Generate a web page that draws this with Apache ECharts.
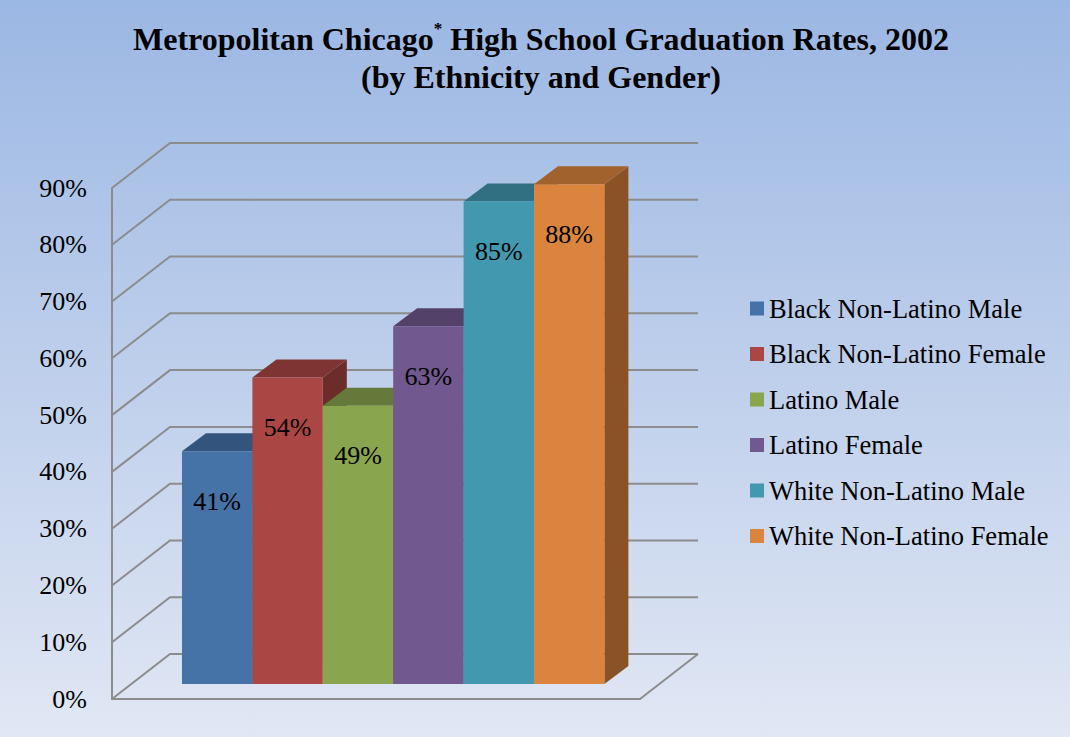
<!DOCTYPE html>
<html>
<head>
<meta charset="utf-8">
<script src="https://cdn.jsdelivr.net/npm/echarts@6/dist/echarts.min.js"></script>
<style>
  html, body { margin: 0; padding: 0; }
  #chart { width: 1070px; height: 737px; }
</style>
</head>
<body>
<div id="chart"></div>
<script>
// data
var categories = ['Black Non-Latino Male', 'Black Non-Latino Female', 'Latino Male',
    'Latino Female', 'White Non-Latino Male', 'White Non-Latino Female'];
var rates = [41, 54, 49, 63, 85, 88];
var yTicks = [0, 10, 20, 30, 40, 50, 60, 70, 80, 90];
var colors = ['#4572A7', '#AA4643', '#89A54E', '#71588F', '#4198AF', '#DB843D'];

// 3d look: full depth of the walls and where the bars sit in it
var WALL_DX = 58, WALL_DY = -45;
var BAR_FX = 19.3, BAR_FY = -15;   // bar front face offset from front plane
var BAR_DX = 24, BAR_DY = -18;     // bar depth
var X_MIN = -0.72, X_MAX = 6.78;
var FONT = 'Liberation Serif';

function shade(hex, k) {
    var n = parseInt(hex.slice(1), 16);
    var r = Math.round(((n >> 16) & 255) * k);
    var g = Math.round(((n >> 8) & 255) * k);
    var b = Math.round((n & 255) * k);
    return 'rgb(' + r + ',' + g + ',' + b + ')';
}

function wallItem(params, api) {
    var v = api.value(1);
    var a = api.coord([X_MIN, v]);
    var b = api.coord([X_MAX, v]);
    var lineStyle = {stroke: '#8C8C8C', lineWidth: 2, fill: null};
    var children = [{
        type: 'polyline',
        shape: {points: [a, [a[0] + WALL_DX, a[1] + WALL_DY], [b[0] + WALL_DX, b[1] + WALL_DY]]},
        style: lineStyle
    }];
    if (v === 0) {
        // right edge of the floor
        children.push({
            type: 'line',
            shape: {x1: b[0], y1: b[1], x2: b[0] + WALL_DX, y2: b[1] + WALL_DY},
            style: lineStyle
        });
    }
    return {type: 'group', children: children};
}

function barItem(params, api) {
    var i = api.value(0), v = api.value(1);
    var p0 = api.coord([i, 0]);
    var p1 = api.coord([i + 1, v]);
    var x0 = p0[0] + BAR_FX, x1 = p1[0] + BAR_FX;
    var yb = p0[1] + BAR_FY, yt = p1[1] + BAR_FY;
    var c = colors[i];
    return {
        type: 'group',
        children: [
            {
                type: 'polygon',
                shape: {points: [[x1, yt], [x1 + BAR_DX, yt + BAR_DY], [x1 + BAR_DX, yb + BAR_DY], [x1, yb]]},
                style: {fill: shade(c, 0.63)}
            },
            {
                type: 'polygon',
                shape: {points: [[x0, yt], [x0 + BAR_DX, yt + BAR_DY], [x1 + BAR_DX, yt + BAR_DY], [x1, yt]]},
                style: {fill: shade(c, 0.74)}
            },
            {
                type: 'rect',
                shape: {x: x0, y: yt, width: x1 - x0, height: yb - yt},
                style: {fill: c}
            },
            {
                type: 'text',
                x: (x0 + x1) / 2,
                y: yt + 50,
                style: {
                    text: v + '%',
                    fill: '#000',
                    fontFamily: FONT,
                    fontSize: 26,
                    align: 'center',
                    verticalAlign: 'middle'
                }
            }
        ]
    };
}

var series = [{
    name: 'walls',
    type: 'custom',
    renderItem: wallItem,
    silent: true,
    data: yTicks.map(function(t) { return [X_MIN, t]; }),
    z: 1
}];
for (var k = 0; k < categories.length; k++) {
    series.push({
        name: categories[k],
        type: 'custom',
        renderItem: barItem,
        itemStyle: {color: colors[k]},
        data: [[k, rates[k]]],
        z: 2 + k
    });
}

var myChart = echarts.init(document.getElementById('chart'), null, {renderer: 'svg'});
myChart.setOption({
    animation: false,
    backgroundColor: {
        type: 'linear', x: 0, y: 0, x2: 0, y2: 1,
        colorStops: [{offset: 0, color: '#9BB7E3'}, {offset: 1, color: '#E1E7F4'}]
    },
    title: {
        text: '{t|Metropolitan Chicago}{s|*}{t| High School Graduation Rates, 2002}\n{t|(by Ethnicity and Gender)}',
        left: 536,
        top: 15,
        textAlign: 'center',
        textStyle: {
            rich: {
                t: {fontFamily: FONT, fontWeight: 'bold', fontSize: 32, color: '#000', lineHeight: 38},
                s: {fontFamily: FONT, fontWeight: 'bold', fontSize: 17, color: '#000',
                    lineHeight: 38, verticalAlign: 'top', padding: [0, 0, 12, 0]}
            }
        }
    },
    legend: {
        orient: 'vertical',
        left: 745,
        top: 290,
        icon: 'rect',
        itemWidth: 14,
        itemHeight: 14,
        itemGap: 18.5,
        data: categories,
        selectedMode: false,
        textStyle: {fontFamily: FONT, fontSize: 26.5, color: '#000'}
    },
    grid: {left: 112, top: 188, width: 528, height: 511},
    xAxis: {
        type: 'value',
        min: X_MIN,
        max: X_MAX,
        axisLine: {show: true, onZero: false, lineStyle: {color: '#8C8C8C', width: 2}},
        axisTick: {show: false},
        axisLabel: {show: false},
        splitLine: {show: false}
    },
    yAxis: {
        type: 'value',
        min: 0,
        max: 90,
        interval: 10,
        axisLine: {show: true, onZero: false, lineStyle: {color: '#8C8C8C', width: 2}},
        axisTick: {show: false},
        splitLine: {show: false},
        axisLabel: {
            formatter: '{value}%',
            margin: 25,
            fontFamily: FONT,
            fontSize: 26,
            color: '#000'
        }
    },
    series: series
});
</script>
</body>
</html>
